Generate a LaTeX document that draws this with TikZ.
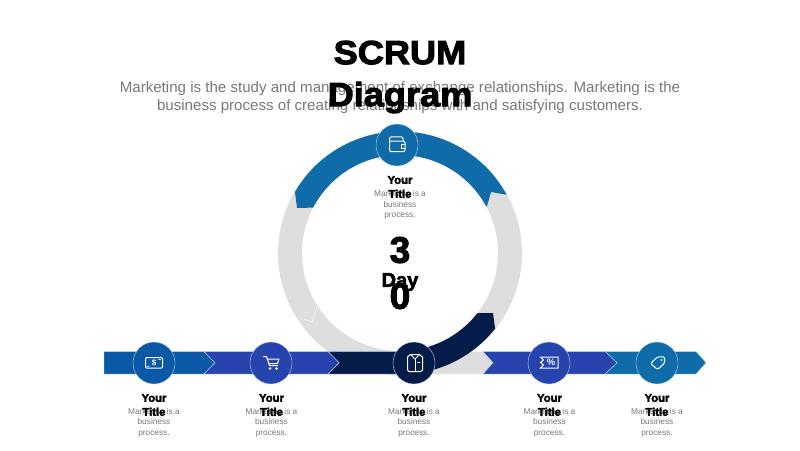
\documentclass[tikz,border=0pt]{standalone}
\usepackage{fontspec}
\setmainfont{Liberation Sans}
\newfontfamily\heavyfont[FakeBold=2.6]{Liberation Sans Bold}
\newfontfamily\widefont[FakeBold=3,FakeStretch=1.08]{Liberation Sans Bold}
\definecolor{ringblue}{HTML}{0F6CA8}
\definecolor{bandblue}{HTML}{0B59A6}
\definecolor{indigo}{HTML}{2743AE}
\definecolor{navy}{HTML}{051C48}
\definecolor{ringgrey}{HTML}{DEDEDE}
\definecolor{bodygrey}{HTML}{787878}
\tikzset{
  seg/.style={draw=white!75!ringblue,line width=.4pt},
  badge/.style={circle,minimum size=42pt,inner sep=0pt,draw=white!70!ringblue,line width=.4pt},
  icon/.style={draw=white,line width=1pt,line cap=round,line join=round},
  bodytext/.style={text=bodygrey,align=center,font=\fontsize{8.3}{10.4}\selectfont},
  smalltitle/.style={text=black,align=center,font=\heavyfont\fontsize{11.3}{14}\selectfont},
  bigtitle/.style={text=black,align=center,font=\widefont\fontsize{33.5}{42}\selectfont},
  lede/.style={text=bodygrey,align=center,font=\fontsize{15.1}{18}\selectfont},
}
\newcommand{\labelpair}[4]{%
  \node[bodytext] (body#1) at (#2,#4) {Marketing is a\\business\\process.};
  \node[smalltitle] (title#1) at (#2,#3) {Your\\Title};
}
\begin{document}
\begin{tikzpicture}[x=1pt,y=-1pt]
\useasboundingbox (0,0) rectangle (800,450);
% grey ring
\fill[ringgrey,even odd rule] plot[domain=0:360,samples=120] ({400+122*cos(\x)},{253-122*sin(\x)}) -- cycle
  plot[domain=0:360,samples=120] ({400+98*cos(\x)},{253-98*sin(\x)}) -- cycle;
\draw[white,line width=.4pt] (297,317) -- (312,322) -- (317,307);
% band
\fill[ringgrey] (400,351.5) -- (483,351.5) -- (493,362.7) -- (483,374) -- (400,374) -- cycle;
\draw[seg,fill=bandblue] (104,351.5) -- (204,351.5) -- (215,362.7) -- (204,374) -- (104,374) -- cycle;
\draw[seg,fill=navy] (328,351.5) -- (400,351.5) -- (400,374) -- (328,374) -- (339,362.7) -- cycle;
\draw[seg,fill=indigo] (204,351.5) -- (328,351.5) -- (339,362.7) -- (328,374) -- (204,374) -- (215,362.7) -- cycle;
\draw[seg,fill=ringblue] (605,351.5) -- (696,351.5) -- (706,362.7) -- (696,374) -- (605,374) -- (617,362.7) -- cycle;
\draw[seg,fill=indigo] (483,351.5) -- (605,351.5) -- (617,362.7) -- (605,374) -- (483,374) -- (493,362.7) -- cycle;
% ring arcs
\fill[ringblue] plot[domain=149.8:28.7,samples=60] ({400+121.5*cos(\x)},{253-121.5*sin(\x)})
  -- (491,192) -- (487,206)
  -- plot[domain=28.4:152.4,samples=60] ({400+98*cos(\x)},{253-98*sin(\x)})
  -- (297,208) -- cycle;
\fill[navy] plot[domain=-38.3:-88,samples=40] ({400+121.5*cos(\x)},{253-121.5*sin(\x)})
  -- plot[domain=-88:-37.9,samples=40] ({400+98*cos(\x)},{253-98*sin(\x)})
  -- (493,313) -- (495,328) -- cycle;
% badges
\node[badge,fill=ringblue] (badgetop) at (397,145) {};
\node[badge,fill=bandblue] (badgea) at (154,363) {};
\node[badge,fill=indigo] (badgeb) at (271,363) {};
\node[badge,fill=navy] (badgec) at (414,363) {};
\node[badge,fill=indigo] (badged) at (549,363) {};
\node[badge,fill=ringblue] (badgee) at (657,363) {};
% wallet
\draw[icon,rounded corners=2pt] (389.5,141) -- (389.5,151.7) -- (405,151.7) -- (405,141) -- cycle;
\draw[icon,rounded corners=2pt] (389.5,142) -- (389.5,136.8) -- (403,136.8) -- (403,141);
\draw[icon,line width=.8pt] (405,144) -- (401,144) -- (401,148) -- (405,148);
% money
\draw[icon,rounded corners=1pt] (145.5,357.5) -- (162.5,357.5) -- (162.5,368) -- (145.5,368) -- cycle;
\draw[icon,line width=.6pt] (147.5,366) -- (149,366) (158.7,359.5) -- (160.5,359.5);
\node[text=white,font=\bfseries\fontsize{8}{8}\selectfont,inner sep=0pt] (dollar) at (154,362.8) {\$};
% cart
\draw[icon] (263.5,356.5) -- (266.5,356.5) -- (269.5,365.5) -- (277.5,365.5);
\draw[icon] (267.3,359) -- (279,359) -- (277.5,363.5) -- (268.8,363.5);
\fill[white] (270,368.5) circle[radius=1.3] (276.5,368.5) circle[radius=1.3];
% shirt box
\draw[icon,rounded corners=1.5pt] (407.5,357) -- (407.5,371.5) -- (422.5,371.5) -- (422.5,357);
\draw[icon] (407.5,357) -- (410.5,354.5) -- (419.5,354.5) -- (422.5,357);
\draw[icon] (410.5,354.5) -- (415,359) -- (419.5,354.5);
\draw[icon,line width=.8pt] (415,359) -- (415,371.5);
\draw[icon,line width=.8pt] (417.5,362) -- (420,362);
% coupon
\draw[icon,line join=miter] (540.5,357) -- (558,357) -- (558,368) -- (540.5,368) -- (543.5,365) -- (540.5,362.5) -- (543.5,360) -- cycle;
\node[text=white,font=\bfseries\fontsize{9.5}{9.5}\selectfont,inner sep=0pt] (percent) at (551,362.6) {\%};
% tag
\draw[icon,rounded corners=1.5pt] (650.5,363.5) -- (657.5,356.8) -- (664.7,356.8) -- (664.7,363) -- (657.5,369.5) -- cycle;
\fill[white] (661.6,360) circle[radius=.9];
% text
\node[lede] (intro) at (400,98) {Marketing is the study and management of exchange relationships. Marketing is the\\business process of creating relationships with and satisfying customers.};
\node[bigtitle] (heading) at (400,77) {SCRUM\\Diagram};
\labelpair{top}{400}{187}{205}
\labelpair{a}{154}{405}{422.5}
\labelpair{b}{271.5}{405}{422.5}
\labelpair{c}{414}{405}{422.5}
\labelpair{d}{549.5}{405}{422.5}
\labelpair{e}{657}{405}{422.5}
\node[text=black,font=\heavyfont\fontsize{37}{46}\selectfont,align=center] (num) at (400,273) {3\\0};
\node[text=black,font=\heavyfont\fontsize{20}{20}\selectfont] (dayword) at (400,282) {Day};
\end{tikzpicture}
\end{document}
